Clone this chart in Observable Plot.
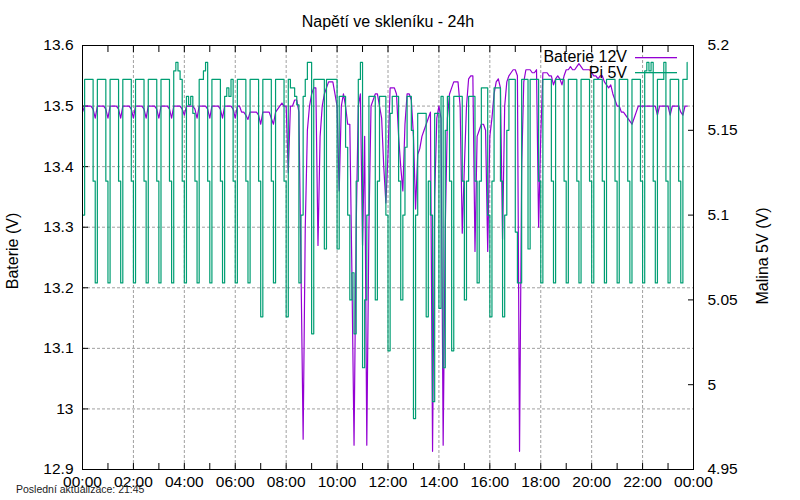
<!DOCTYPE html>
<html><head><meta charset="utf-8">
<script src="https://cdn.jsdelivr.net/npm/d3@7"></script>
<script src="https://cdn.jsdelivr.net/npm/@observablehq/plot@0.6"></script>
<style>
html,body{margin:0;padding:0;background:#fff;}
#chart{position:relative;width:800px;height:500px;font-family:"Liberation Sans",Arial,sans-serif;}
#chart svg{position:absolute;left:0;top:0;}
</style></head><body><div id="chart"></div>
<script>
const title = "Napětí ve skleníku - 24h";
const caption = "Poslední aktualizace: 21:45";
const leftLabel = "Baterie (V)";
const rightLabel = "Malina 5V (V)";
const seriesNames = ["Baterie 12V", "Pi 5V"];
const seriesColors = ["#9400d3", "#009e73"];
const stepMinutes = 5;
const xTickLabels = ["00:00","02:00","04:00","06:00","08:00","10:00","12:00","14:00","16:00","18:00","20:00","22:00","00:00"];
const leftTicks = [12.9, 13, 13.1, 13.2, 13.3, 13.4, 13.5, 13.6];
const rightTicks = [4.95, 5, 5.05, 5.1, 5.15, 5.2];

// Baterie 12V, one value every 5 minutes from 00:00
const baterie12V = [
 13.49,13.5,13.5,13.5,13.5,13.495,13.48,13.5,13.5,13.5,13.5,13.495,
 13.48,13.5,13.5,13.5,13.5,13.495,13.48,13.5,13.5,13.5,13.5,13.495,
 13.48,13.5,13.5,13.5,13.5,13.495,13.48,13.5,13.5,13.5,13.5,13.495,
 13.48,13.5,13.5,13.5,13.5,13.495,13.48,13.5,13.5,13.5,13.5,13.495,
 13.485,13.5,13.5,13.5,13.5,13.495,13.48,13.5,13.5,13.5,13.5,13.495,
 13.48,13.5,13.5,13.5,13.5,13.495,13.48,13.5,13.5,13.5,13.5,13.495,
 13.48,13.5,13.5,13.49,13.49,13.485,13.478,13.49,13.49,13.49,13.49,13.485,
 13.47,13.49,13.49,13.49,13.49,13.48,13.47,13.49,13.495,13.5,13.505,13.5,
 13.5,13.39,13.5,13.5,13.51,13.51,13.49,13.23,12.95,13.3,13.46,13.5,
 13.52,13.53,13.53,13.27,13.45,13.5,13.52,13.53,13.54,13.54,13.54,13.52,
 13.5,13.36,13.5,13.52,13.5,13.47,13.47,13.22,12.94,13.3,13.5,13.52,
 13.27,13.45,12.94,13.3,13.5,13.51,13.52,13.52,13.5,13.48,13.4,13.34,
 13.42,13.53,13.53,13.53,13.52,13.45,13.4,13.36,13.47,13.52,13.52,13.51,
 13.45,13.33,13.42,13.43,13.45,13.46,13.47,13.48,13.49,12.93,13.35,13.48,
 13.5,13.48,12.94,13.3,13.48,13.52,13.53,13.54,13.54,13.54,13.5,13.29,
 13.4,13.5,13.545,13.55,13.55,13.26,13.45,13.46,13.47,13.47,13.46,13.26,
 13.45,13.48,13.52,13.54,13.545,13.53,13.28,13.5,13.54,13.55,13.555,13.56,
 13.56,13.55,12.93,13.4,13.54,13.56,13.56,13.56,13.555,13.555,13.56,13.3,
 13.45,13.555,13.555,13.555,13.55,13.55,13.535,13.545,13.55,13.545,13.535,13.55,
 13.56,13.56,13.565,13.56,13.56,13.565,13.57,13.565,13.56,13.56,13.56,13.56,
 13.555,13.55,13.55,13.545,13.55,13.55,13.54,13.535,13.53,13.535,13.52,13.51,
 13.5,13.5,13.49,13.49,13.485,13.48,13.475,13.47,13.48,13.49,13.5,13.5,
 13.5,13.5,13.5,13.5,13.5,13.5,13.5,13.485,13.5,13.5,13.5,13.5,
 13.5,13.485,13.5,13.5,13.5,13.5,13.49,13.485,13.5,13.5
];

// Pi 5V, one value every 5 minutes from 00:00
const pi5V = [
 5.1,5.18,5.18,5.18,5.18,5.12,5.06,5.18,5.18,5.18,5.18,5.12,
 5.06,5.18,5.18,5.18,5.18,5.12,5.06,5.18,5.18,5.18,5.18,5.12,
 5.06,5.18,5.18,5.18,5.18,5.12,5.06,5.18,5.18,5.18,5.18,5.12,
 5.06,5.18,5.18,5.18,5.18,5.12,5.06,5.185,5.19,5.185,5.18,5.12,
 5.06,5.17,5.165,5.17,5.16,5.12,5.06,5.18,5.18,5.185,5.19,5.12,
 5.06,5.18,5.18,5.18,5.18,5.12,5.06,5.17,5.175,5.17,5.18,5.12,
 5.06,5.18,5.18,5.18,5.18,5.12,5.06,5.18,5.18,5.18,5.18,5.12,
 5.04,5.18,5.18,5.18,5.18,5.12,5.06,5.18,5.18,5.18,5.18,5.12,
 5.04,5.18,5.175,5.175,5.17,5.165,5.06,5.1,5.17,5.18,5.19,5.19,
 5.03,5.18,5.18,5.18,5.18,5.18,5.08,5.18,5.18,5.18,5.18,5.18,
 5.08,5.17,5.17,5.17,5.14,5.1,5.05,5.066,5.03,5.12,5.18,5.19,
 5.01,5.05,5.1,5.17,5.17,5.17,5.05,5.12,5.17,5.17,5.17,5.1,
 5.02,5.16,5.17,5.17,5.17,5.12,5.05,5.1,5.14,5.17,5.17,5.15,
 4.98,5.1,5.16,5.16,5.16,5.16,5.04,5.12,5.1,4.99,5.16,5.16,
 5.045,5.17,5.01,5.15,5.17,5.12,5.02,5.17,5.17,5.17,5.17,5.12,
 5.05,5.12,5.17,5.17,5.17,5.12,5.06,5.12,5.175,5.175,5.175,5.1,
 5.04,5.12,5.175,5.175,5.175,5.12,5.04,5.1,5.15,5.18,5.18,5.18,
 5.09,5.06,5.06,5.18,5.18,5.18,5.08,5.18,5.18,5.18,5.18,5.12,
 5.06,5.18,5.18,5.18,5.18,5.12,5.06,5.18,5.18,5.18,5.18,5.12,
 5.06,5.18,5.18,5.18,5.18,5.12,5.06,5.18,5.18,5.18,5.18,5.12,
 5.06,5.18,5.18,5.18,5.18,5.12,5.06,5.18,5.18,5.18,5.18,5.12,
 5.06,5.18,5.18,5.18,5.18,5.12,5.06,5.18,5.18,5.18,5.18,5.12,
 5.06,5.185,5.19,5.185,5.19,5.12,5.06,5.18,5.18,5.18,5.19,5.12,
 5.06,5.18,5.18,5.18,5.18,5.12,5.06,5.18,5.18,5.19
];

const rows = baterie12V.map((v, i) => ({h: i * stepMinutes / 60, bat: v, pi: pi5V[i]}));
const hourTicks = d3.range(0, 25);
const labeledHours = xTickLabels.map((_, k) => 2 * k);

const FONT = '"Liberation Sans", Arial, sans-serif';
const common = {
  width: 800, height: 500,
  marginTop: 45, marginRight: 107, marginBottom: 31, marginLeft: 82,
  style: {fontFamily: FONT, fontSize: "15.5px", color: "#000", overflow: "visible"}
};
const gridStyle = {stroke: "#a0a0a0", strokeOpacity: 1, strokeDasharray: "3,2", strokeWidth: 1};

const p1 = Plot.plot({
  ...common,
  style: {...common.style, background: "#fff"},
  x: {domain: [0, 24], label: null},
  y: {domain: [12.9, 13.6], label: null},
  marks: [
    Plot.gridY(leftTicks.slice(1, -1), gridStyle),
    Plot.gridX(labeledHours.slice(1, -1), gridStyle),
    Plot.axisY(leftTicks, {anchor: "left", tickSize: -6, tickPadding: 15, label: null, fontSize: 15.5, tickFormat: d => String(d)}),
    Plot.axisX(hourTicks, {anchor: "bottom", tickSize: -6, label: null, tickFormat: () => ""}),
    Plot.axisX(hourTicks, {anchor: "top", tickSize: -6, label: null, tickFormat: () => ""}),
    Plot.axisX(labeledHours, {anchor: "bottom", tickSize: 0, tickPadding: 6, label: null, fontSize: 15.5, tickFormat: d => xTickLabels[Math.round(d / 2)]}),
    Plot.line(rows, {x: "h", y: "bat", stroke: seriesColors[0], strokeWidth: 1.2})
  ]
});

const p2 = Plot.plot({
  ...common,
  style: {...common.style, background: "transparent"},
  x: {domain: [0, 24], label: null, axis: null},
  y: {domain: [4.95, 5.2], label: null},
  marks: [
    Plot.axisY(rightTicks, {anchor: "right", tickSize: -6, tickPadding: 20, label: null, fontSize: 15.5, tickFormat: d => String(d)}),
    Plot.line(rows, {x: "h", y: "pi", stroke: seriesColors[1], strokeWidth: 1.2, curve: "step-after"}),
    Plot.frame({stroke: "#000", strokeWidth: 1})
  ]
});

const chart = document.getElementById("chart");
chart.appendChild(p1);
chart.appendChild(p2);

const svg = d3.select(p2);
const g = svg.append("g").attr("font-family", FONT);
g.append("text").attr("x", 388).attr("y", 27).attr("text-anchor", "middle").attr("font-size", 16).attr("fill", "#000").text(title);
g.append("text").attr("x", 16).attr("y", 493).attr("text-anchor", "start").attr("font-size", 10.5).attr("fill", "#222").text(caption);
g.append("text").attr("transform", "translate(18,251) rotate(-90)").attr("text-anchor", "middle").attr("font-size", 16).attr("fill", "#000").text(leftLabel);
g.append("text").attr("transform", "translate(768,256) rotate(-90)").attr("text-anchor", "middle").attr("font-size", 16).attr("fill", "#000").text(rightLabel);
const legendY = [62, 77.5];
seriesNames.forEach((name, i) => {
  g.append("rect")
    .attr("x", 635).attr("y", Math.floor(legendY[i] - 5)).attr("width", 42).attr("height", 1.3)
    .style("fill", seriesColors[i]).style("stroke", "none");
  g.append("text").attr("x", 627).attr("y", legendY[i]).attr("text-anchor", "end").attr("font-size", 16).attr("fill", "#000").text(name);
});
</script></body></html>
